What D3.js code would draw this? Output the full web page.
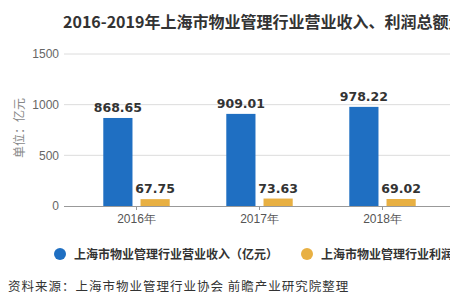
<!DOCTYPE html>
<html>
<head>
<meta charset="utf-8">
<script src="https://cdn.jsdelivr.net/npm/d3@7"></script>
<style>
  body { margin: 0; background: #fff; overflow: hidden; }
  svg { font-family: "Noto Sans CJK SC", "Noto Sans", sans-serif; display: block; }
</style>
</head>
<body>
<svg id="chart"></svg>
<script>
// data (the 2019 group falls outside the visible area)
const years = ["2016年", "2017年", "2018年"];
const revenue = [868.65, 909.01, 978.22];
const profit = [67.75, 73.63, 69.02];
const yTicks = [0, 500, 1000, 1500];
const seriesNames = ["上海市物业管理行业营业收入（亿元）", "上海市物业管理行业利润总额（亿元）"];
const colors = ["#1f6fc2", "#e8b043"];

const width = 450, height = 300;
const svg = d3.select("#chart").attr("width", width).attr("height", height);

// scales
const x = d3.scaleBand()
    .domain(years)
    .range([75, 75 + 123 * years.length])
    .paddingInner(0.46)
    .paddingOuter(0.23);

const xSub = d3.scaleBand()
    .domain([0, 1])
    .range([0, x.bandwidth()])
    .paddingInner(0.216);

const y = d3.scaleLinear()
    .domain([0, 1500])
    .range([206, 54]);

// gridlines
svg.append("g")
    .selectAll("line")
    .data(yTicks.filter(d => d > 0))
    .join("line")
    .attr("x1", 64).attr("x2", width)
    .attr("y1", d => y(d)).attr("y2", d => y(d))
    .attr("stroke", "#dcdcdc");

// y axis labels
const yAxis = svg.append("g")
    .attr("transform", "translate(64,0)")
    .call(d3.axisLeft(y).tickValues(yTicks).tickFormat(d3.format("d")).tickSize(0).tickPadding(5));
yAxis.select(".domain").remove();
yAxis.selectAll("text")
    .attr("fill", "#666")
    .style("font-family", "Liberation Sans, sans-serif")
    .style("font-size", "12px");

svg.append("text")
    .attr("transform", "translate(24,128) rotate(-90)")
    .attr("text-anchor", "middle")
    .attr("fill", "#888")
    .style("font-size", "12px")
    .text("单位：亿元");

// x axis
const xAxis = svg.append("g")
    .attr("transform", `translate(0,${y(0)})`)
    .call(d3.axisBottom(x).tickSize(4).tickPadding(4));
xAxis.select(".domain")
    .attr("d", `M64,0.5H${width}`)
    .attr("stroke", "#999");
xAxis.selectAll(".tick line").attr("stroke", "#999");
xAxis.selectAll("text")
    .attr("fill", "#555")
    .style("font-size", "12px");

// bars
const series = [revenue, profit];
series.forEach((vals, si) => {
    const g = svg.append("g");
    g.selectAll("rect")
        .data(vals)
        .join("rect")
        .attr("x", (d, i) => x(years[i]) + xSub(si))
        .attr("width", xSub.bandwidth())
        .attr("y", d => y(d))
        .attr("height", d => y(0) - y(d))
        .attr("fill", colors[si]);
    g.selectAll("text")
        .data(vals)
        .join("text")
        .attr("x", (d, i) => x(years[i]) + xSub(si) + xSub.bandwidth() / 2)
        .attr("y", d => y(d) - 6)
        .attr("text-anchor", "middle")
        .attr("fill", "#333")
        .style("font-family", "DejaVu Sans, sans-serif")
        .style("font-size", "12.5px")
        .style("font-weight", "bold")
        .text(d => d.toFixed(2));
});

// title (runs past the right edge, as in the reference)
svg.append("text")
    .attr("x", 63)
    .attr("y", 28)
    .attr("fill", "#333")
    .style("font-size", "16px")
    .style("font-weight", "bold")
    .text("2016-2019年上海市物业管理行业营业收入、利润总额走势");

// legend
const legendX = [60, 307];
seriesNames.forEach((name, i) => {
    svg.append("circle")
        .attr("cx", legendX[i]).attr("cy", 254).attr("r", 6)
        .attr("fill", colors[i]);
    svg.append("text")
        .attr("x", legendX[i] + 14).attr("y", 258.5)
        .attr("fill", "#333")
        .style("font-size", "12px")
        .style("font-weight", "bold")
        .text(name);
});

// source
svg.append("text")
    .attr("x", 8).attr("y", 291)
    .attr("fill", "#333")
    .style("font-size", "12.5px")
    .style("letter-spacing", "1px")
    .text("资料来源：上海市物业管理行业协会 前瞻产业研究院整理");
</script>
</body>
</html>
